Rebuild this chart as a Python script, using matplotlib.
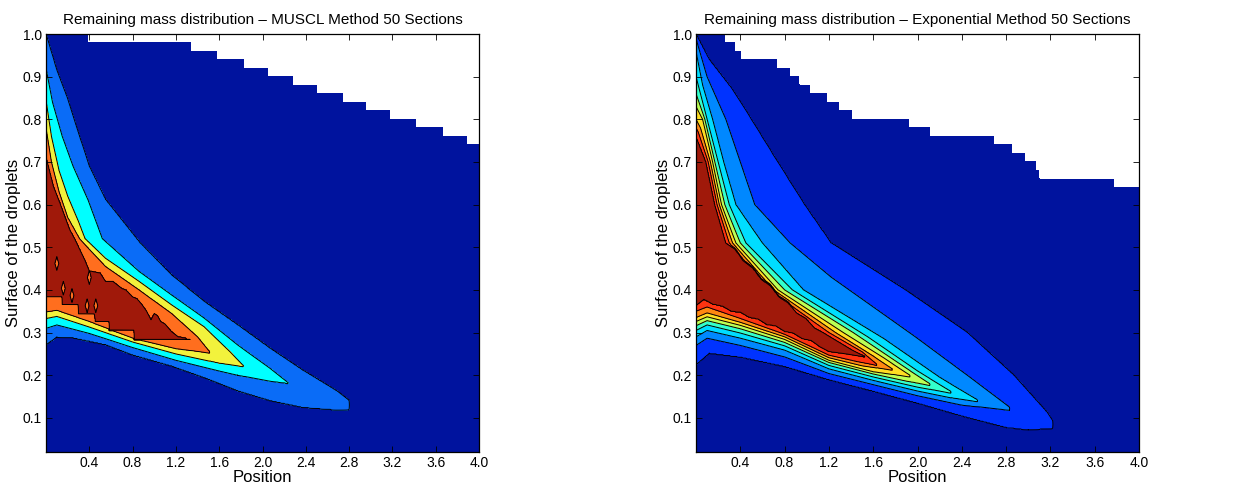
import numpy as np
import matplotlib
matplotlib.use('Agg')
import matplotlib.pyplot as plt

plt.rcParams['font.family'] = ['Liberation Sans', 'DejaVu Sans']

# grid: position along the spray and droplet surface (50 sections -> 0.02 .. 1.0)
x_grid = np.linspace(0.0, 4.0, 801)
s_grid = np.linspace(0.02, 1.0, 491)

# ---------------- MUSCL method ----------------
muscl_colors = ['#00139E', '#0A6CF7', '#00FFFF', '#F2F23C', '#FF6E1E', '#A0190A']

# lower edge of each contour level (outermost first)
muscl_lower_x = [
    [0, 0.1, 0.25, 0.55, 0.8, 1.16, 1.46, 1.77, 2.07, 2.37, 2.68, 2.80],
    [0, 0.1, 0.4, 0.8, 1.2, 1.6, 1.77, 2.07, 2.24],
    [0, 0.1, 0.4, 0.8, 1.2, 1.6, 1.83],
    [0, 0.1, 0.4, 0.8, 1.2, 1.51],
    [0, 0.145, 0.15, 0.297, 0.30, 0.448, 0.452, 0.58, 0.585, 0.81, 0.815, 1.33],
]
muscl_lower_s = [
    [0.272, 0.290, 0.288, 0.272, 0.248, 0.222, 0.195, 0.164, 0.141, 0.125, 0.119, 0.120],
    [0.310, 0.318, 0.298, 0.265, 0.235, 0.210, 0.200, 0.186, 0.181],
    [0.333, 0.338, 0.313, 0.278, 0.250, 0.228, 0.220],
    [0.348, 0.352, 0.326, 0.287, 0.262, 0.252],
    [0.384, 0.384, 0.365, 0.365, 0.343, 0.343, 0.326, 0.326, 0.305, 0.305, 0.284, 0.284],
]
# upper edge of each contour level
muscl_upper_x = [
    [0, 0.1, 0.2, 0.28, 0.4, 0.55, 0.87, 1.16, 1.46, 1.77, 2.07, 2.37, 2.68, 2.80],
    [0, 0.06, 0.15, 0.25, 0.39, 0.52, 0.86, 1.16, 1.46, 1.77, 2.07, 2.24],
    [0, 0.05, 0.12, 0.2, 0.3, 0.36, 0.55, 0.86, 1.16, 1.46, 1.7, 1.83],
    [0, 0.05, 0.12, 0.2, 0.31, 0.55, 0.86, 1.16, 1.4, 1.51],
    [0, 0.07, 0.13, 0.22, 0.27, 0.36, 0.40, 0.50, 0.55, 0.62, 0.70, 0.74, 0.80, 0.84,
     0.89, 0.93, 0.97, 1.00, 1.03, 1.06, 1.10, 1.16, 1.22, 1.33],
]
muscl_upper_s = [
    [1.0, 0.915, 0.848, 0.783, 0.69, 0.612, 0.51, 0.435, 0.373, 0.318, 0.263, 0.212, 0.164, 0.141],
    [0.92, 0.84, 0.76, 0.69, 0.61, 0.52, 0.443, 0.388, 0.334, 0.271, 0.216, 0.181],
    [0.845, 0.76, 0.68, 0.62, 0.56, 0.52, 0.474, 0.42, 0.365, 0.314, 0.255, 0.220],
    [0.78, 0.70, 0.63, 0.57, 0.52, 0.455, 0.40, 0.345, 0.29, 0.255],
    [0.713, 0.643, 0.604, 0.542, 0.518, 0.47, 0.445, 0.44, 0.42, 0.42, 0.404, 0.40, 0.384, 0.38,
     0.365, 0.35, 0.33, 0.345, 0.34, 0.326, 0.32, 0.302, 0.29, 0.284],
]
# small islands below the top level
muscl_holes_x = [0.10, 0.16, 0.24, 0.40, 0.38, 0.46]
muscl_holes_s = [0.462, 0.404, 0.387, 0.429, 0.363, 0.363]
# largest section still present along the position
muscl_top_x = [0, 0.39, 1.34, 1.58, 1.83, 2.05, 2.28, 2.50, 2.74, 2.96, 3.18, 3.42, 3.67, 3.89]
muscl_top_s = [1.0, 0.98, 0.96, 0.94, 0.92, 0.90, 0.88, 0.86, 0.84, 0.82, 0.80, 0.78, 0.76, 0.74]

# ---------------- Exponential method ----------------
expo_colors = ['#00139E', '#0033FF', '#0088FF', '#00DDFF', '#33FFCC',
               '#BBFF55', '#FFDD22', '#FF8811', '#FF3311', '#A0190A']

expo_lower_x = [
    [0, 0.12, 0.4, 0.8, 1.2, 1.6, 2.0, 2.4, 2.8, 3.0, 3.22],
    [0, 0.1, 0.4, 0.8, 1.2, 1.6, 2.0, 2.4, 2.83],
    [0, 0.1, 0.4, 0.8, 1.2, 1.6, 2.0, 2.3, 2.54],
    [0, 0.1, 0.4, 0.8, 1.2, 1.6, 2.0, 2.30],
    [0, 0.1, 0.4, 0.8, 1.2, 1.6, 1.9, 2.11],
    [0, 0.1, 0.4, 0.8, 1.2, 1.6, 1.93],
    [0, 0.1, 0.4, 0.8, 1.2, 1.5, 1.77],
    [0, 0.1, 0.4, 0.8, 1.2, 1.45, 1.63],
    # top level: scalloped lower edge
    [0, 0.07, 0.15, 0.24, 0.32, 0.40, 0.48, 0.56, 0.64, 0.72, 0.80, 0.88, 0.96,
     1.04, 1.12, 1.2, 1.35, 1.53],
]
expo_lower_s = [
    [0.225, 0.252, 0.243, 0.221, 0.190, 0.163, 0.135, 0.105, 0.078, 0.072, 0.076],
    [0.270, 0.287, 0.270, 0.243, 0.204, 0.178, 0.152, 0.130, 0.118],
    [0.290, 0.305, 0.287, 0.259, 0.215, 0.188, 0.163, 0.147, 0.138],
    [0.305, 0.318, 0.299, 0.269, 0.223, 0.196, 0.172, 0.158],
    [0.316, 0.328, 0.309, 0.277, 0.230, 0.203, 0.186, 0.176],
    [0.326, 0.337, 0.317, 0.284, 0.235, 0.208, 0.196],
    [0.335, 0.346, 0.324, 0.290, 0.241, 0.222, 0.212],
    [0.350, 0.360, 0.333, 0.296, 0.247, 0.232, 0.223],
    [0.362, 0.377, 0.366, 0.361, 0.349, 0.347, 0.335, 0.331, 0.318, 0.315, 0.302,
     0.298, 0.285, 0.281, 0.266, 0.255, 0.250, 0.243],
]
expo_upper_x = [
    [0, 0.12, 0.33, 0.5, 0.69, 0.98, 1.22, 1.89, 2.45, 2.87, 3.17, 3.22],
    [0, 0.1, 0.27, 0.4, 0.53, 0.85, 1.22, 1.98, 2.5, 2.83],
    [0, 0.06, 0.15, 0.25, 0.36, 0.60, 0.97, 1.70, 2.2, 2.54],
    [0, 0.05, 0.10, 0.2, 0.30, 0.45, 0.87, 1.55, 2.0, 2.30],
    [0, 0.04, 0.08, 0.17, 0.26, 0.40, 0.80, 1.42, 1.85, 2.11],
    [0, 0.06, 0.15, 0.23, 0.36, 0.74, 1.33, 1.70, 1.93],
    [0, 0.04, 0.13, 0.21, 0.33, 0.70, 1.26, 1.6, 1.77],
    [0, 0.02, 0.11, 0.19, 0.30, 0.66, 1.2, 1.5, 1.63],
    [0, 0.09, 0.17, 0.27, 0.35, 0.43, 0.51, 0.59, 0.67, 0.75, 0.83, 0.91, 0.99,
     1.07, 1.15, 1.41, 1.53],
]
expo_upper_s = [
    [1.0, 0.94, 0.87, 0.80, 0.72, 0.60, 0.51, 0.40, 0.30, 0.20, 0.113, 0.094],
    [0.99, 0.90, 0.80, 0.70, 0.60, 0.51, 0.43, 0.29, 0.19, 0.125],
    [0.96, 0.88, 0.80, 0.70, 0.60, 0.51, 0.40, 0.285, 0.195, 0.142],
    [0.90, 0.85, 0.80, 0.70, 0.60, 0.51, 0.40, 0.29, 0.21, 0.162],
    [0.86, 0.83, 0.80, 0.70, 0.60, 0.51, 0.40, 0.30, 0.225, 0.18],
    [0.83, 0.80, 0.70, 0.60, 0.51, 0.40, 0.30, 0.24, 0.20],
    [0.80, 0.78, 0.70, 0.60, 0.51, 0.40, 0.30, 0.245, 0.215],
    [0.78, 0.77, 0.70, 0.60, 0.51, 0.40, 0.30, 0.255, 0.226],
    [0.76, 0.70, 0.60, 0.51, 0.497, 0.468, 0.453, 0.425, 0.411, 0.384, 0.371, 0.346,
     0.334, 0.311, 0.30, 0.259, 0.243],
]
expo_holes_x = []
expo_holes_s = []
expo_top_x = [0, 0.262, 0.346, 0.41, 0.727, 0.846, 0.933, 1.03, 1.18, 1.293, 1.403,
              1.925, 2.113, 2.694, 2.849, 2.968, 3.066, 3.10, 3.772]
expo_top_s = [1.0, 0.98, 0.96, 0.94, 0.92, 0.90, 0.88, 0.86, 0.84, 0.82, 0.80,
              0.78, 0.76, 0.74, 0.72, 0.70, 0.68, 0.66, 0.64]

x_ticks = [0.4, 0.8, 1.2, 1.6, 2.0, 2.4, 2.8, 3.2, 3.6, 4.0]
y_ticks = [0.1, 0.2, 0.3, 0.4, 0.5, 0.6, 0.7, 0.8, 0.9, 1.0]


def build_field(lower_x, lower_s, upper_x, upper_s, holes_x, holes_s, top_x, top_s):
    nlev = len(lower_x)
    Z = np.full((len(s_grid), len(x_grid)), 0.5)
    for j, x in enumerate(x_grid):
        lo, hi = [], []
        for k in range(nlev):
            if x > lower_x[k][-1] + 1e-9:
                break
            lo.append(np.interp(x, lower_x[k], lower_s[k]))
            hi.append(np.interp(x, upper_x[k], upper_s[k]))
        m = len(lo)
        if m == 0:
            continue
        # keep the levels nested
        for k in range(m - 2, -1, -1):
            lo[k] = min(lo[k], lo[k + 1] - 1e-3)
            hi[k] = max(hi[k], hi[k + 1] + 1e-3)
        mid = 0.5 * (lo[-1] + hi[-1])
        sp = [-1.0] + lo + [mid + 1e-6] + [h + 2e-6 for h in hi[::-1]] + [2.0]
        vals = [0.0] + list(range(1, m + 1)) + [m + 0.5] + list(range(m, 0, -1)) + [0.0]
        Z[:, j] = np.interp(s_grid, sp, vals)

    X, S = np.meshgrid(x_grid, s_grid)
    for hx, hs in zip(holes_x, holes_s):
        d = np.abs(X - hx) / 0.018 + np.abs(S - hs) / 0.016
        Z = np.minimum(Z, nlev - 1 + d)

    top = np.array(top_s)[np.searchsorted(top_x, x_grid, side='right') - 1]
    return np.ma.masked_where(S > top[None, :] + 1e-9, Z), nlev


def draw_panel(ax, title, colors, *data):
    Z, nlev = build_field(*data)
    levels = [-1] + list(range(1, nlev + 2))
    ax.contourf(x_grid, s_grid, Z, levels=levels, colors=colors)
    ax.contour(x_grid, s_grid, Z, levels=list(range(1, nlev + 1)), colors='k', linewidths=0.7)
    ax.set_xlim(0, 4.0)
    ax.set_ylim(0.02, 1.0)
    ax.set_xticks(x_ticks)
    ax.set_xticklabels([f'{v:.1f}' for v in x_ticks])
    ax.set_yticks(y_ticks)
    ax.set_yticklabels([f'{v:.1f}' for v in y_ticks])
    ax.tick_params(direction='in', top=True, right=True, length=4, width=0.6, labelsize=10, pad=3)
    for sp in ax.spines.values():
        sp.set_linewidth(0.9)
    ax.set_title(title, fontsize=11, pad=7)
    ax.set_xlabel('Position', fontsize=12, labelpad=0)
    ax.set_ylabel('Surface of the droplets', fontsize=12, labelpad=1)


fig = plt.figure(figsize=(12.52, 4.93), dpi=100)
ax1 = fig.add_axes([46 / 1252, 41 / 493, 433 / 1252, 418 / 493])
ax2 = fig.add_axes([696 / 1252, 41 / 493, 443 / 1252, 418 / 493])

draw_panel(ax1, 'Remaining mass distribution \u2013 MUSCL Method 50 Sections', muscl_colors,
           muscl_lower_x, muscl_lower_s, muscl_upper_x, muscl_upper_s,
           muscl_holes_x, muscl_holes_s, muscl_top_x, muscl_top_s)
draw_panel(ax2, 'Remaining mass distribution \u2013 Exponential Method 50 Sections', expo_colors,
           expo_lower_x, expo_lower_s, expo_upper_x, expo_upper_s,
           expo_holes_x, expo_holes_s, expo_top_x, expo_top_s)

fig.savefig('out.png', dpi=100)
